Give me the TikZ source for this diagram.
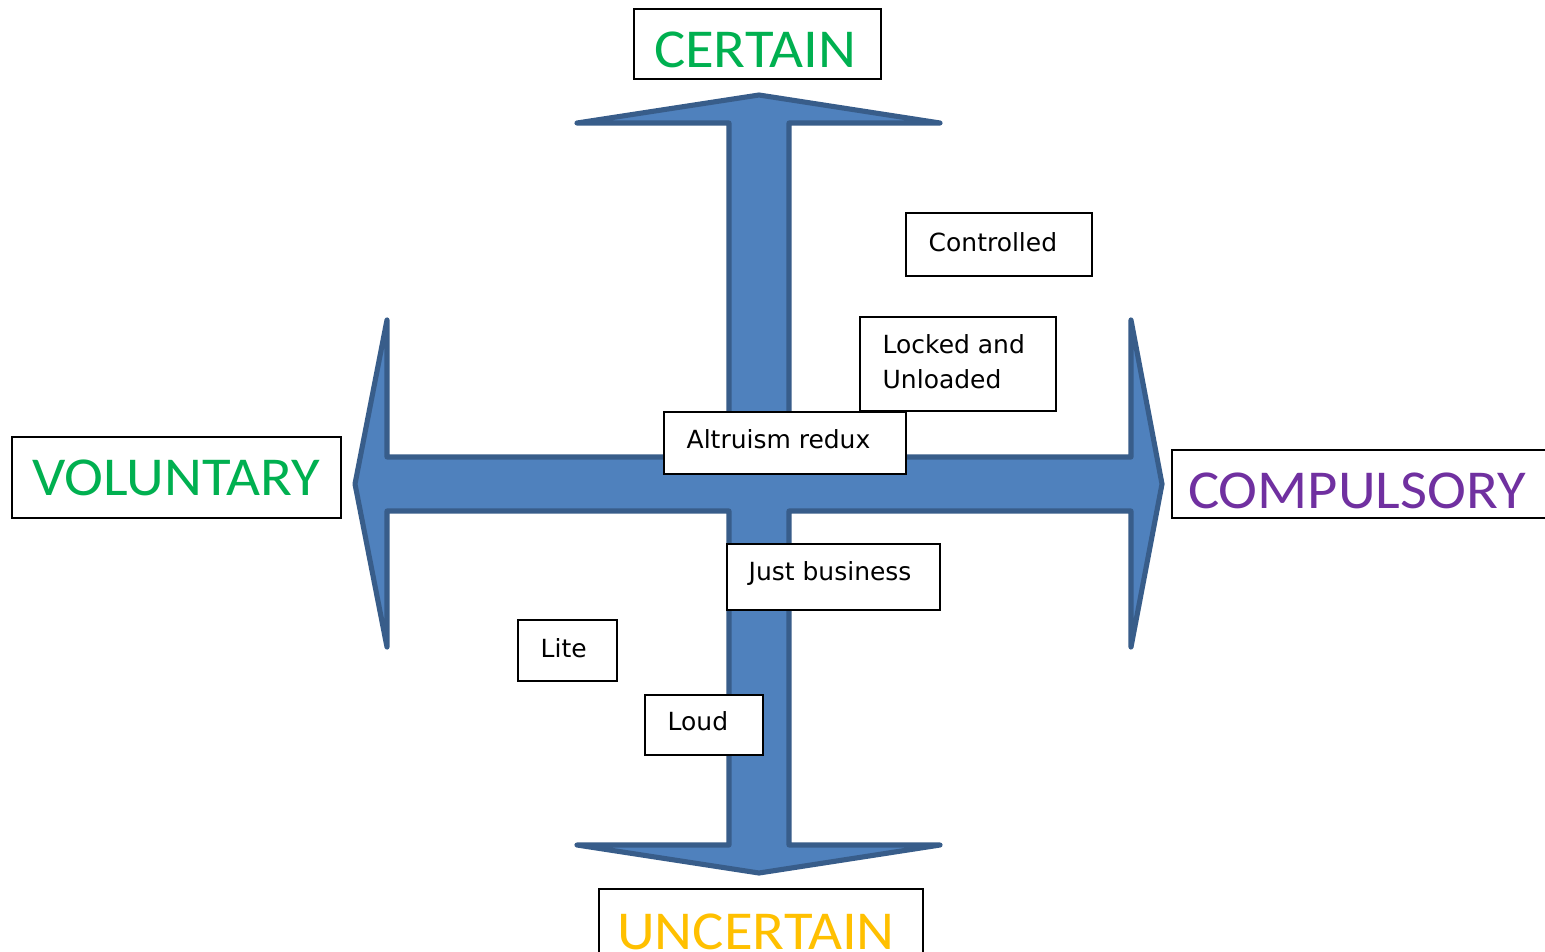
\documentclass[tikz,border=0pt]{standalone}
\usepackage{fontspec}
\usetikzlibrary{fit}
\newfontfamily\headfont[FakeStretch=1.07]{Carlito}
\newfontfamily\labelfont{DejaVu Sans}
\definecolor{arrowfill}{HTML}{4F81BD}
\definecolor{arrowline}{HTML}{385D8A}
\definecolor{certgreen}{HTML}{00B050}
\definecolor{comppurple}{HTML}{7030A0}
\definecolor{uncgold}{HTML}{FFC000}
\tikzset{
  crossarrow/.style={fill=arrowfill, draw=arrowline, line width=1.45pt, line join=round, line cap=round},
  headbox/.style={draw=black, line width=0.6pt, fill=white, inner sep=0pt},
  itembox/.style={draw=black, line width=0.35pt, fill=white, inner sep=0pt},
  headtext/.style={inner sep=0pt, anchor=base, font=\headfont\fontsize{15.6pt}{18pt}\selectfont},
  itemtext/.style={inner sep=0pt, anchor=base west, font=\labelfont\fontsize{7.1pt}{9pt}\selectfont},
}
\begin{document}
\begin{tikzpicture}[x=0.01cm, y=-0.01cm]
\clip (0,0) rectangle (1545,951);
\fill[white] (0,0) rectangle (1545,951);

% four-way arrow
\draw[crossarrow]
  (759,95) -- (940,123) -- (789,123) -- (789,457) -- (1131,457) -- (1131,320)
  -- (1162,484) -- (1131,647) -- (1131,511) -- (789,511) -- (789,845)
  -- (940,845) -- (759,873) -- (577,845) -- (729,845) -- (729,511)
  -- (387,511) -- (387,647) -- (355,484) -- (387,320) -- (387,457)
  -- (729,457) -- (729,123) -- (577,123) -- cycle;

% axis labels
\node[headbox, fit={(634,9) (881,79)}] (certbox) {};
\node[headtext, text=certgreen] (cert) at (755,67) {CERTAIN};

\node[headbox, fit={(12,437) (341,518)}] (volbox) {};
\node[headtext, text=certgreen] (vol) at (176,495) {VOLUNTARY};

\node[headbox, fit={(1172,450) (1560,518)}] (compbox) {};
\node[headtext, text=comppurple] (comp) at (1357,508) {COMPULSORY};

\node[headbox, fit={(599,889) (923,970)}] (uncbox) {};
\node[headtext, text=uncgold] (unc) at (756,949) {UNCERTAIN};

% items
\node[itembox, fit={(906,213) (1092,276)}] (ctlbox) {};
\node[itemtext] (ctl) at (928,251) {Controlled};

\node[itembox, fit={(860,317) (1056,411)}] (lockbox) {};
\node[itemtext] (lock1) at (882,353) {Locked and};
\node[itemtext] (lock2) at (882,388) {Unloaded};

\node[itembox, fit={(664,412) (906,474)}] (altbox) {};
\node[itemtext] (alt) at (686,448) {Altruism redux};

\node[itembox, fit={(727,544) (940,610)}] (jbbox) {};
\node[itemtext] (jb) at (748,580) {Just business};

\node[itembox, fit={(518,620) (617,681)}] (litebox) {};
\node[itemtext] (lite) at (540,657) {Lite};

\node[itembox, fit={(645,695) (763,755)}] (loudbox) {};
\node[itemtext] (loud) at (667,730) {Loud};
\end{tikzpicture}
\end{document}
